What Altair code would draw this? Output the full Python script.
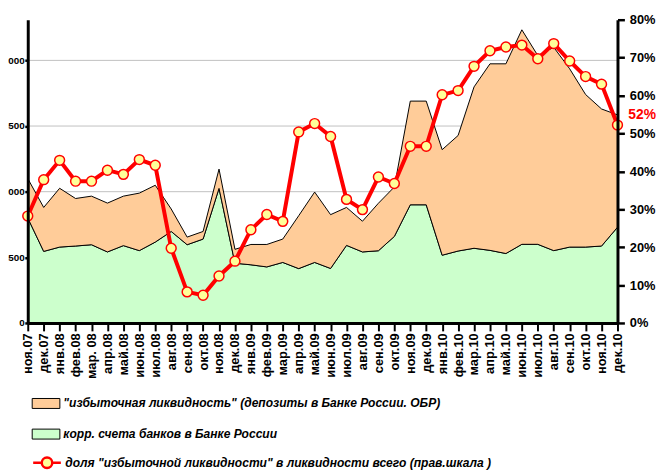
import altair as alt
import pandas as pd

FONT = "Liberation Sans"

months = ["ноя.07", "дек.07", "янв.08", "фев.08", "мар. 08", "апр.08", "май.08", "июн.08",
          "июл.08", "авг.08", "сен.08", "окт.08", "ноя.08", "дек.08", "янв.09", "фев.09",
          "мар.09", "апр.09", "май.09", "июн.09", "июл.09", "авг.09", "сен.09", "окт.09",
          "ноя.09", "дек.09", "янв.10", "фев.10", "мар.10", "апр.10", "май.10", "июн.10",
          "июл.10", "авг.10", "сен.10", "окт.10", "ноя.10", "дек.10"]

# корр. счета банков в Банке России (левая шкала)
corr_accounts = [800, 545, 578, 586, 596, 541, 589, 551, 616, 697, 596, 639, 1025, 455, 443, 427,
                 461, 414, 461, 415, 591, 541, 550, 659, 900, 900, 516, 548, 569, 553, 529, 599,
                 599, 551, 578, 578, 586, 729]

# "избыточная ликвидность" (депозиты в Банке России, ОБР) (левая шкала)
excess_liquidity = [300, 335, 448, 362, 370, 372, 377, 438, 433, 171, 58, 58, 147, 106, 155, 171,
                    178, 403, 536, 410, 289, 234, 362, 377, 790, 790, 804, 880, 1229, 1421, 1445, 1634,
                    1438, 1549, 1358, 1162, 1044, 856]

# доля избыточной ликвидности, % (правая шкала)
excess_share = [28.2, 37.8, 42.9, 37.4, 37.4, 40.3, 39.2, 43.1, 41.6, 19.7, 8.2, 7.3, 12.4, 16.3,
                24.6, 28.6, 26.8, 50.4, 52.6, 49.2, 32.6, 29.9, 38.5, 36.8, 46.6, 46.6, 60.2, 61.3,
                67.7, 71.8, 72.8, 73.3, 69.7, 73.7, 69.1, 65.0, 63.0, 52.2]

left_ticks = [0, 500, 1000, 1500, 2000]
grid_values = [500, 1000, 1500, 2000]
right_ticks = [0, 10, 20, 30, 40, 50, 60, 70, 80]

LBL_EXCESS = '"избыточная ликвидность" (депозиты в Банке России. ОБР)'
LBL_CORR = 'корр. счета банков в Банке России'
LBL_SHARE = 'доля "избыточной ликвидности" в ликвидности всего (прав.шкала )'

wide = pd.DataFrame({"month": months, "share": excess_share, "lbl": LBL_SHARE})
long = pd.concat([
    pd.DataFrame({"month": months, "series": LBL_CORR, "value": corr_accounts, "ord": 0}),
    pd.DataFrame({"month": months, "series": LBL_EXCESS, "value": excess_liquidity, "ord": 1}),
], ignore_index=True)

x_enc = alt.X(
    "month:N", sort=months, scale=alt.Scale(type="point", padding=0),
    axis=alt.Axis(title=None, labelAngle=-90, labelFont=FONT, labelFontSize=13, labelFontWeight="bold",
                  labelColor="black", domainColor="black", domainWidth=3, tickColor="black",
                  tickWidth=2, tickSize=8, labelPadding=2, grid=False, labelOverlap=False, zindex=2),
)
left_scale = alt.Scale(domain=[0, 2310], nice=False, zero=True)
right_scale = alt.Scale(domain=[0, 80], nice=False)

legend_common = dict(title=None, orient="none", direction="vertical", symbolSize=784,
                     labelFont=FONT, labelFontSize=12.2, labelFontStyle="italic", labelFontWeight="bold",
                     labelColor="black", labelOffset=3, padding=0, labelLimit=0)

grid = alt.Chart(pd.DataFrame({"g": grid_values})).mark_rule(color="#C0C0C0", strokeWidth=1).encode(
    y=alt.Y("g:Q", scale=left_scale, axis=None)
)

areas = alt.Chart(long).mark_area(stroke="black", strokeWidth=1, opacity=1).encode(
    x=x_enc,
    y=alt.Y("value:Q", stack="zero", scale=left_scale,
            axis=alt.Axis(orient="left", title=None, values=left_ticks, grid=False,
                          labelExpr="datum.value >= 1000 ? substring(format(datum.value, 'd'), 1) : format(datum.value, 'd')",
                          labelFont=FONT, labelFontSize=10, labelFontWeight="bold", labelColor="black",
                          domainColor="black", domainWidth=3, tickColor="black", tickWidth=2.5,
                          tickSize=3, labelPadding=0.5, zindex=2)),
    fill=alt.Fill("series:N", scale=alt.Scale(domain=[LBL_EXCESS, LBL_CORR], range=["#FFCC99", "#CCFFCC"]),
                  legend=alt.Legend(legendX=4, legendY=374, symbolType="M-1,-0.36H1V0.36H-1Z",
                                    symbolStrokeColor="black", symbolStrokeWidth=1, rowPadding=9,
                                    **legend_common)),
    order=alt.Order("ord:Q"),
)

line = alt.Chart(wide).mark_line(strokeWidth=4).encode(
    x=x_enc,
    y=alt.Y("share:Q", scale=right_scale,
            axis=alt.Axis(orient="right", title=None, values=right_ticks, grid=False,
                          labelExpr="datum.value + '%'",
                          labelFont=FONT, labelFontSize=13, labelFontWeight="bold", labelColor="black",
                          domainColor="black", domainWidth=3, tickColor="black", tickWidth=2.5,
                          tickSize=7, labelPadding=5, zindex=2)),
    color=alt.Color("lbl:N", scale=alt.Scale(domain=[LBL_SHARE], range=["#FF0000"]),
                    legend=alt.Legend(legendX=4, legendY=433,
                                      symbolType="M-1,0H-0.38M0.38,0H1M0.38,0A0.38,0.38,0,1,1,-0.38,0A0.38,0.38,0,1,1,0.38,0Z",
                                      symbolFillColor="#FFFF99", symbolStrokeWidth=2.5,
                                      **legend_common)),
)

points = alt.Chart(wide).mark_point(filled=True, fill="#FFFF99", stroke="#FF0000", strokeWidth=1.5,
                                    size=100, opacity=1).encode(
    x=x_enc,
    y=alt.Y("share:Q", scale=right_scale, axis=None),
)

last_label = alt.Chart(wide).transform_filter(
    alt.datum.month == months[-1]
).transform_calculate(
    txt="format(datum.share, '.0f') + '%'"
).mark_text(align="left", baseline="middle", dx=11, dy=-10, color="#FF0000", fontWeight="bold",
            fontSize=14, font=FONT).encode(
    x=x_enc,
    y=alt.Y("share:Q", scale=right_scale, axis=None),
    text="txt:N",
)

chart = alt.layer(grid, areas, line, points, last_label).resolve_scale(
    y="independent"
).properties(
    width=597, height=307,
    padding={"left": 20, "top": 9, "right": 40, "bottom": 146},
    autosize=alt.AutoSizeParams(type="none"),
).configure_view(stroke=None)

chart.save("out.html", embed_options={"renderer": "svg", "actions": False})
